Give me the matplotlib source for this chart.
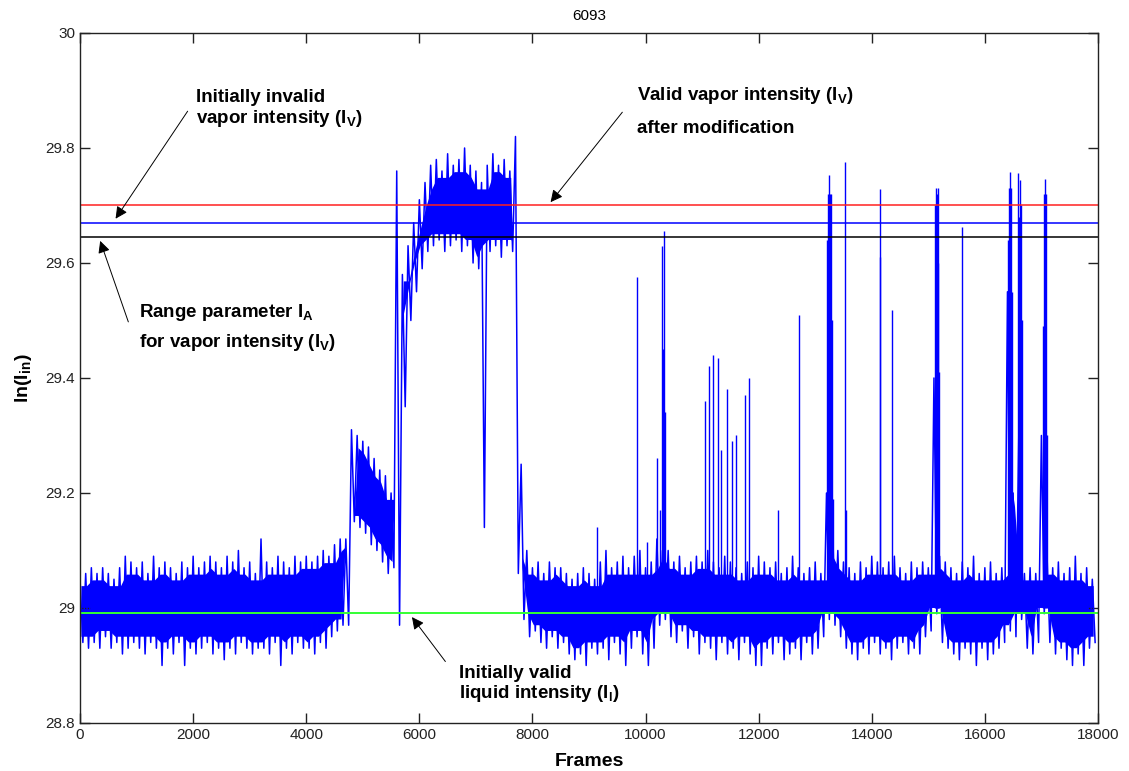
import numpy as np
import matplotlib.pyplot as plt

plt.rcParams['font.family'] = 'Liberation Sans'
plt.rcParams['mathtext.fontset'] = 'custom'
plt.rcParams['mathtext.rm'] = 'Liberation Sans:bold'
plt.rcParams['mathtext.it'] = 'Liberation Sans:bold'
plt.rcParams['mathtext.bf'] = 'Liberation Sans:bold'

# signal envelope, one value per 100 frames (upper / lower tips of the noise)
sig_hi = [29.05, 29.06, 29.07, 29.06, 29.07, 29.06, 29.05, 29.07, 29.09, 29.08,   # 0-900
          29.07, 29.08, 29.06, 29.09, 29.07, 29.08, 29.07, 29.06, 29.08, 29.07,   # 1000-1900
          29.09, 29.07, 29.08, 29.09, 29.08, 29.07, 29.09, 29.08, 29.10, 29.07,   # 2000-2900
          29.08, 29.06, 29.12, 29.08, 29.07, 29.09, 29.08, 29.07, 29.09, 29.08,   # 3000-3900
          29.09, 29.08, 29.09, 29.10, 29.09, 29.11, 29.12, 29.12, 29.31, 29.30,   # 4000-4900
          29.29, 29.28, 29.26, 29.24, 29.23, 29.20, 29.76, 29.58, 29.63, 29.67,   # 5000-5900
          29.71, 29.74, 29.77, 29.78, 29.76, 29.79, 29.77, 29.78, 29.80, 29.77,   # 6000-6900
          29.76, 29.74, 29.77, 29.79, 29.77, 29.78, 29.76, 29.82, 29.25, 29.10,   # 7000-7900
          29.07, 29.08, 29.06, 29.08, 29.07, 29.07, 29.06, 29.05, 29.06, 29.07,   # 8000-8900
          29.06, 29.05, 29.08, 29.10, 29.07, 29.08, 29.09, 29.07, 29.09, 29.10,   # 9000-9900
          29.07, 29.08, 29.12, 29.10, 29.10, 29.08, 29.09, 29.07, 29.08, 29.09,   # 10000-10900
          29.08, 29.10, 29.08, 29.07, 29.09, 29.08, 29.07, 29.06, 29.08, 29.07,   # 11000-11900
          29.09, 29.08, 29.07, 29.08, 29.06, 29.07, 29.09, 29.07, 29.06, 29.07,   # 12000-12900
          29.08, 29.06, 29.20, 29.18, 29.10, 29.08, 29.07, 29.06, 29.08, 29.07,   # 13000-13900
          29.09, 29.08, 29.07, 29.08, 29.09, 29.07, 29.06, 29.08, 29.07, 29.08,   # 14000-14900
          29.07, 29.40, 29.09, 29.08, 29.07, 29.06, 29.08, 29.07, 29.09, 29.06,   # 15000-15900
          29.07, 29.08, 29.06, 29.07, 29.55, 29.20, 29.30, 29.06, 29.07, 29.06,   # 16000-16900
          29.30, 29.09, 29.07, 29.08, 29.06, 29.07, 29.09, 29.06, 29.07, 29.05]   # 17000-17900

sig_lo = [28.94, 28.93, 28.94, 28.93, 28.95, 28.93, 28.94, 28.92, 28.93, 28.94,
          28.93, 28.92, 28.94, 28.93, 28.90, 28.93, 28.92, 28.94, 28.90, 28.93,
          28.92, 28.93, 28.94, 28.92, 28.93, 28.91, 28.93, 28.92, 28.94, 28.93,
          28.92, 28.93, 28.93, 28.92, 28.94, 28.90, 28.93, 28.92, 28.94, 28.93,
          28.93, 28.92, 28.94, 28.93, 28.95, 28.96, 28.97, 28.97, 29.15, 29.14,
          29.13, 29.11, 29.10, 29.08, 29.06, 29.07, 28.97, 29.35, 29.50, 29.55,
          29.59, 29.62, 29.63, 29.64, 29.62, 29.63, 29.64, 29.62, 29.63, 29.60,
          29.59, 29.14, 29.62, 29.63, 29.61, 29.63, 29.62, 29.06, 28.98, 28.95,
          28.96, 28.94, 28.93, 28.95, 28.93, 28.94, 28.92, 28.91, 28.92, 28.90,
          28.93, 28.92, 28.93, 28.91, 28.94, 28.92, 28.90, 28.93, 28.95, 28.92,
          28.90, 28.93, 28.97, 28.98, 28.95, 28.94, 28.96, 28.93, 28.95, 28.92,
          28.94, 28.93, 28.91, 28.94, 28.92, 28.93, 28.91, 28.94, 28.92, 28.90,
          28.90, 28.93, 28.92, 28.94, 28.91, 28.92, 28.93, 28.91, 28.94, 28.92,
          28.93, 28.95, 28.98, 28.97, 28.95, 28.93, 28.92, 28.91, 28.93, 28.92,
          28.94, 28.92, 28.93, 28.91, 28.93, 28.94, 28.92, 28.93, 28.92, 28.95,
          28.96, 28.99, 28.94, 28.93, 28.92, 28.91, 28.93, 28.92, 28.90, 28.93,
          28.91, 28.92, 28.93, 28.94, 28.96, 28.95, 28.98, 28.93, 28.92, 28.94,
          28.99, 28.94, 28.92, 28.93, 28.91, 28.90, 28.92, 28.90, 28.93, 28.94]

# isolated spikes / vapor bursts (frame, peak value)
spike_frames = [9150, 9845, 10025, 10205, 10250, 10285, 10305, 10335, 10350,
                11050, 11115, 11185, 11275, 11335, 11435, 11520, 11595, 11755, 11830,
                12340, 12720,
                13215, 13230, 13245, 13260, 13275, 13290, 13310, 13525, 13540,
                14140, 14150, 14360,
                15120, 15135, 15150, 15165, 15180, 15190, 15590,
                16415, 16430, 16445, 16460, 16475, 16595, 16610, 16625, 16640, 16655,
                17035, 17050, 17065, 17080, 17095]
spike_tops = [29.14, 29.575, 29.115, 29.26, 29.17, 29.63, 29.45, 29.655, 29.34,
              29.36, 29.42, 29.44, 29.435, 29.275, 29.38, 29.29, 29.30, 29.37, 29.40,
              29.17, 29.51,
              29.64, 29.72, 29.753, 29.72, 29.72, 29.50, 29.19, 29.776, 29.17,
              29.728, 29.61, 29.518,
              29.70, 29.73, 29.72, 29.73, 29.60, 29.41, 29.663,
              29.64, 29.73, 29.758, 29.73, 29.55, 29.757, 29.68, 29.745, 29.70, 29.50,
              29.49, 29.72, 29.746, 29.72, 29.30]

# thresholds
vapor_valid = 29.70
vapor_invalid = 29.67
range_param = 29.646
liquid_valid = 28.992

sig_hi = np.array(sig_hi)
sig_lo = np.array(sig_lo)
frames = np.arange(len(sig_hi)) * 100

fig = plt.figure(figsize=(11.29, 7.71), dpi=100)
ax = fig.add_axes([0.0709, 0.0623, 0.9016, 0.8949])

# dense core of the noise band (tips stick out of it)
core_hi = np.minimum(np.minimum(sig_hi, np.roll(sig_hi, 1)), np.roll(sig_hi, -1)) - 0.012
core_lo = np.maximum(np.maximum(sig_lo, np.roll(sig_lo, 1)), np.roll(sig_lo, -1)) + 0.01
ax.fill_between(frames + 25, core_lo, core_hi, where=core_hi > core_lo,
                color='#0000ff', lw=0, interpolate=True)

# noisy trace
x_zig = np.column_stack([frames, frames + 50]).ravel()
y_zig = np.column_stack([sig_hi, sig_lo]).ravel()
ax.plot(x_zig, y_zig, color='#0000ff', lw=1.1)
ax.vlines(spike_frames, 29.0, spike_tops, color='#0000ff', lw=1.0)

ax.axhline(vapor_valid, color='#ff2020', lw=1.1)
ax.axhline(vapor_invalid, color='#0000ff', lw=1.1)
ax.axhline(range_param, color='black', lw=1.1)
ax.axhline(liquid_valid, color='#33ff33', lw=1.4)

ax.set_xlim(0, 18000)
ax.set_ylim(28.8, 30)
ax.set_xticks(range(0, 18001, 2000))
ax.set_yticks([28.8, 29.0, 29.2, 29.4, 29.6, 29.8, 30.0])
ax.set_yticklabels(['28.8', '29', '29.2', '29.4', '29.6', '29.8', '30'])
ax.tick_params(direction='in', top=True, right=True, length=7, width=1,
               labelsize=11, colors='#222222')
for s in ax.spines.values():
    s.set_linewidth(1.0)
    s.set_color('#222222')

ax.set_title('6093', fontsize=11, pad=9)
ax.set_xlabel('Frames', fontsize=14, fontweight='bold', labelpad=8)
ax.set_ylabel(r'ln($\mathrm{I_{in}}$)', fontsize=14, fontweight='bold', labelpad=8)

txt = dict(fontsize=13.5, fontweight='bold', va='baseline', ha='left')
arr = dict(arrowstyle='-|>', color='black', lw=0.7, mutation_scale=18)

ax.text(2051, 29.880, 'Initially invalid', **txt)
ax.text(2051, 29.844, r'vapor intensity ($\mathrm{I_V}$)', **txt)
ax.annotate('', xy=(601, 29.673), xytext=(1930, 29.868), arrowprops=arr)

ax.text(9849, 29.883, r'Valid vapor intensity ($\mathrm{I_V}$)', **txt)
ax.text(9849, 29.826, 'after modification', **txt)
ax.annotate('', xy=(8290, 29.702), xytext=(9620, 29.866), arrowprops=arr)

ax.text(1043, 29.506, r'Range parameter $\mathrm{I_A}$', **txt)
ax.text(1043, 29.454, r'for vapor intensity ($\mathrm{I_V}$)', **txt)
ax.annotate('', xy=(340, 29.643), xytext=(870, 29.493), arrowprops=arr)

ax.text(6701, 28.878, 'Initially valid', **txt)
ax.text(6701, 28.843, r'liquid intensity ($\mathrm{I_l}$)', **txt)
ax.annotate('', xy=(5840, 28.988), xytext=(6490, 28.903), arrowprops=arr)

fig.savefig('out.png', dpi=100)
